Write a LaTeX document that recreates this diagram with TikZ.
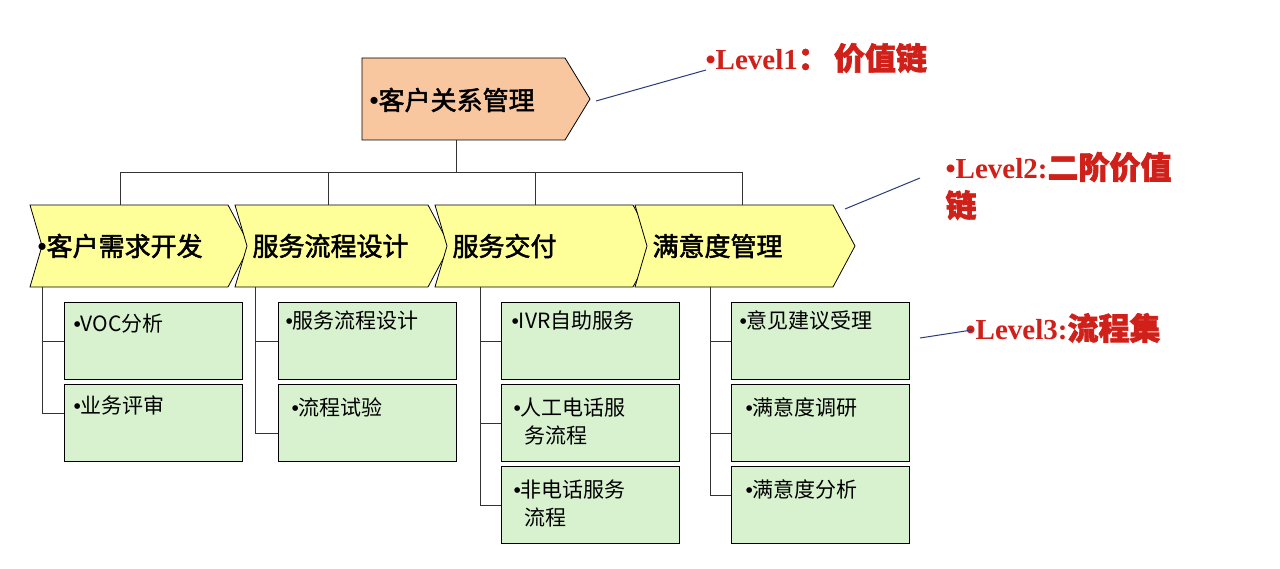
\documentclass[tikz,border=0pt]{standalone}
\usepackage{fontspec}
\setmainfont{Liberation Serif}
\newfontfamily\cjk{Noto Sans CJK SC}
\newfontfamily\cjkb[FakeBold=2]{Noto Sans CJK SC}
\newcommand{\bul}{{\rmfamily\bfseries •}}
\definecolor{orangef}{HTML}{F9C79F}
\definecolor{yellowf}{HTML}{FFFF99}
\definecolor{greenf}{HTML}{D8F2D0}
\definecolor{redt}{HTML}{D0201A}
\definecolor{bluel}{HTML}{2A3A78}
\begin{document}
\begin{tikzpicture}[x=1pt,y=-1pt,
  lvl3/.style={draw=black,fill=greenf,line width=0.8pt,minimum width=178pt,minimum height=77pt,inner sep=0pt},
  txt3/.style={anchor=north west,font=\cjk\fontsize{21}{28}\selectfont,align=left},
  txt2/.style={anchor=west,font=\cjkb\fontsize{26}{30}\selectfont},
  tree/.style={draw=black!80,line width=0.9pt},
  ptr/.style={draw=bluel,line width=1pt},
  red/.style={text=redt,anchor=west,font=\bfseries\fontsize{29}{38}\selectfont}]
\useasboundingbox (0,0) rectangle (1280,569);
% top box
\draw[fill=orangef,line width=0.8pt] (362,58) -- (565,58) -- (590,99) -- (565,140) -- (362,140) -- cycle;
\node[txt2] (top) at (366,100) {\bul 客户关系管理};
\coordinate (tb) at (456,140);
% level2 chevrons
\foreach \a/\b/\n in {30/250/c1,235/450/c2,435/655/c3,635/855/c4}{
  \draw[fill=yellowf,line width=0.8pt] (\a,205) -- (\b-22,205) -- (\b,246) -- (\b-22,287) -- (\a,287) -- (\a+12,246) -- cycle;
  \coordinate (\n) at (\a,287);
}
\node[txt2] at (34,246) {\bul 客户需求开发};
\node[txt2] at (249,246) {服务流程设计};
\node[txt2] at (449,246) {服务交付};
\node[txt2] at (649,246) {满意度管理};
% tree from top
\draw[tree] (tb) -- (456,172);
\draw[tree] (120,205) -- (120,172) -- (742,172) -- (742,205);
\draw[tree] (328,172) -- (328,205);
\draw[tree] (535,172) -- (535,205);
% column 1
\node[lvl3] (a1) at (153,341) {}; \node[txt3] at (70,310) {\bul VOC分析};
\node[lvl3] (a2) at (153,423) {}; \node[txt3] at (70,392) {\bul 业务评审};
\draw[tree] (42,287) -- (42,413) -- (a2.west|-0,413);
\draw[tree] (42,341) -- (a1.west);
% column 2
\node[lvl3] (b1) at (367,341) {}; \node[txt3] at (282,307) {\bul 服务流程设计};
\node[lvl3] (b2) at (367,423) {}; \node[txt3] at (288,394) {\bul 流程试验};
\draw[tree] (255,287) -- (255,433) -- (b2.west|-0,433);
\draw[tree] (255,341) -- (b1.west);
% column 3
\node[lvl3] (d1) at (590,341) {}; \node[txt3] at (508,307) {\bul IVR自助服务};
\node[lvl3] (d2) at (590,423) {}; \node[txt3] at (510,394) {\bul 人工电话服\\ \,\,\,务流程};
\node[lvl3] (d3) at (590,505) {}; \node[txt3] at (510,476) {\bul 非电话服务\\ \,\,\,流程};
\draw[tree] (480,287) -- (480,505) -- (d3.west);
\draw[tree] (480,341) -- (d1.west);
\draw[tree] (480,423) -- (d2.west);
% column 4
\node[lvl3] (e1) at (820,341) {}; \node[txt3] at (736,307) {\bul 意见建议受理};
\node[lvl3] (e2) at (820,423) {}; \node[txt3] at (742,394) {\bul 满意度调研};
\node[lvl3] (e3) at (820,505) {}; \node[txt3] at (742,476) {\bul 满意度分析};
\draw[tree] (710,287) -- (710,495) -- (e3.west|-0,495);
\draw[tree] (710,341) -- (e1.west);
\draw[tree] (710,433) -- (e2.west|-0,433);
% labels
\node[red] (l1) at (702,58) {•Level1{\cjkb\fontsize{31}{38}\selectfont ：\,价值链}};
\draw[ptr] (596,101) -- (706,70);
\node[red,align=left] (l2) at (942,186) {•Level2:{\cjkb\fontsize{31}{38}\selectfont 二阶价值}\\{\cjkb\fontsize{31}{38}\selectfont 链}};
\draw[ptr] (845,209) -- (920,178);
\node[red] (l3) at (962,328) {•Level3:{\cjkb\fontsize{31}{38}\selectfont 流程集}};
\draw[ptr] (920,338) -- (972,330);
\end{tikzpicture}
\end{document}
